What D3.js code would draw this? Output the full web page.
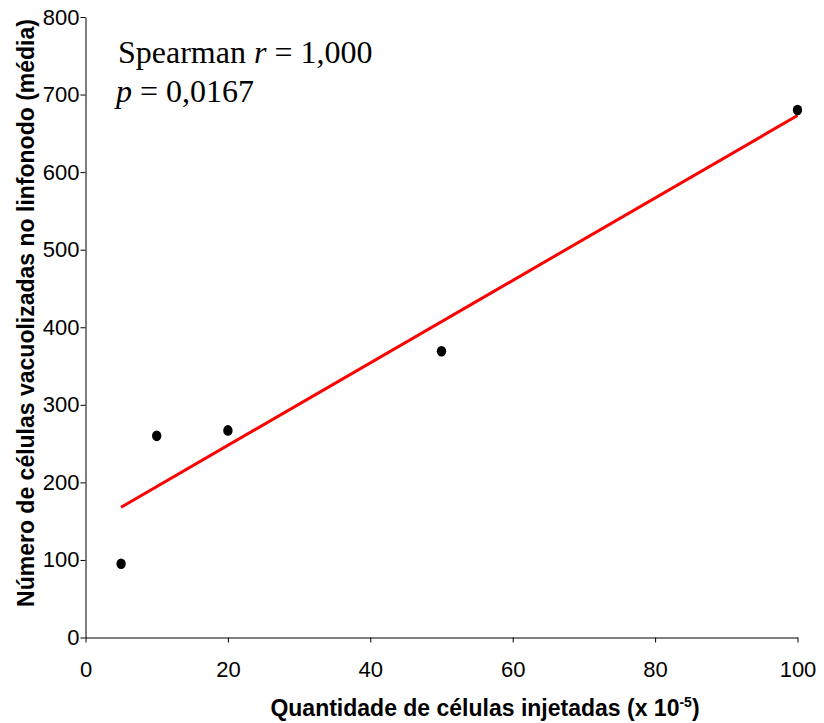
<!DOCTYPE html>
<html lang="pt">
<head>
    <meta charset="UTF-8">
    <title>Células vacuolizadas no linfonodo</title>
    <style>
        body { margin: 0; background: #fff; }
        svg { display: block; }
    </style>
</head>
<body>
    <script src="https://d3js.org/d3.v7.min.js"></script>
    <script>
        // data
        const injected = [5, 10, 20, 50, 100];
        const vacuolized = [95, 260, 267, 369, 680];
        // trend line end points (as drawn)
        const trendX = [5, 100];
        const trendY = [168, 673];
        const xTicks = [0, 20, 40, 60, 80, 100];
        const yTicks = [0, 100, 200, 300, 400, 500, 600, 700, 800];

        const width = 824, height = 723;
        const margin = { left: 85.5, right: 26.5, top: 17, bottom: 85.5 };

        const svg = d3.select('body').append('svg')
            .attr('width', width)
            .attr('height', height);

        const x = d3.scaleLinear().domain([0, 100]).range([margin.left, width - margin.right]);
        const y = d3.scaleLinear().domain([0, 800]).range([height - margin.bottom, margin.top]);

        // axes
        const xAxis = svg.append('g')
            .attr('transform', `translate(0,${y(0)})`)
            .call(d3.axisBottom(x).tickValues(xTicks).tickSize(5).tickPadding(19).tickSizeOuter(0));
        const yAxis = svg.append('g')
            .attr('transform', `translate(${x(0)},0)`)
            .call(d3.axisLeft(y).tickValues(yTicks).tickSize(5).tickPadding(1).tickSizeOuter(0));

        [xAxis, yAxis].forEach(a => {
            a.select('.domain').attr('stroke', '#000').attr('stroke-width', 1);
            a.selectAll('.tick line').attr('stroke', '#000');
            a.selectAll('.tick text')
                .attr('fill', '#000')
                .style('font-family', 'Liberation Sans, Arial, sans-serif')
                .style('font-size', '22px');
        });

        // trend line
        const line = d3.line().x(d => x(d[0])).y(d => y(d[1]));
        svg.append('path')
            .datum(d3.zip(trendX, trendY))
            .attr('d', line)
            .attr('fill', 'none')
            .attr('stroke', '#ff0000')
            .attr('stroke-width', 3);

        // points
        svg.selectAll('ellipse.pt')
            .data(d3.zip(injected, vacuolized))
            .enter()
            .append('ellipse')
            .attr('class', 'pt')
            .attr('cx', d => x(d[0]))
            .attr('cy', d => y(d[1]))
            .attr('rx', 4.7)
            .attr('ry', 5.3)
            .attr('fill', '#000');

        // axis titles
        const xt = svg.append('text')
            .attr('x', 485)
            .attr('y', 716)
            .attr('text-anchor', 'middle')
            .style('font-family', 'Liberation Sans, Arial, sans-serif')
            .style('font-size', '23px')
            .style('font-weight', 'bold');
        xt.append('tspan').text('Quantidade de células injetadas (x 10');
        xt.append('tspan').attr('dy', -9).style('font-size', '14px').text('-5');
        xt.append('tspan').attr('dy', 9).text(')');

        svg.append('text')
            .attr('transform', 'translate(34,313) rotate(-90)')
            .attr('text-anchor', 'middle')
            .style('font-family', 'Liberation Sans, Arial, sans-serif')
            .style('font-size', '23px')
            .style('font-weight', 'bold')
            .text('Número de células vacuolizadas no linfonodo (média)');

        // annotation
        const ann = svg.append('g')
            .style('font-family', 'Liberation Serif, Times New Roman, serif')
            .style('font-size', '32px');
        const a1 = ann.append('text').attr('x', 118).attr('y', 63);
        a1.append('tspan').text('Spearman ');
        a1.append('tspan').style('font-style', 'italic').text('r');
        a1.append('tspan').text(' = 1,000');
        const a2 = ann.append('text').attr('x', 116).attr('y', 102);
        a2.append('tspan').style('font-style', 'italic').text('p');
        a2.append('tspan').text(' = 0,0167');
    </script>
</body>
</html>
